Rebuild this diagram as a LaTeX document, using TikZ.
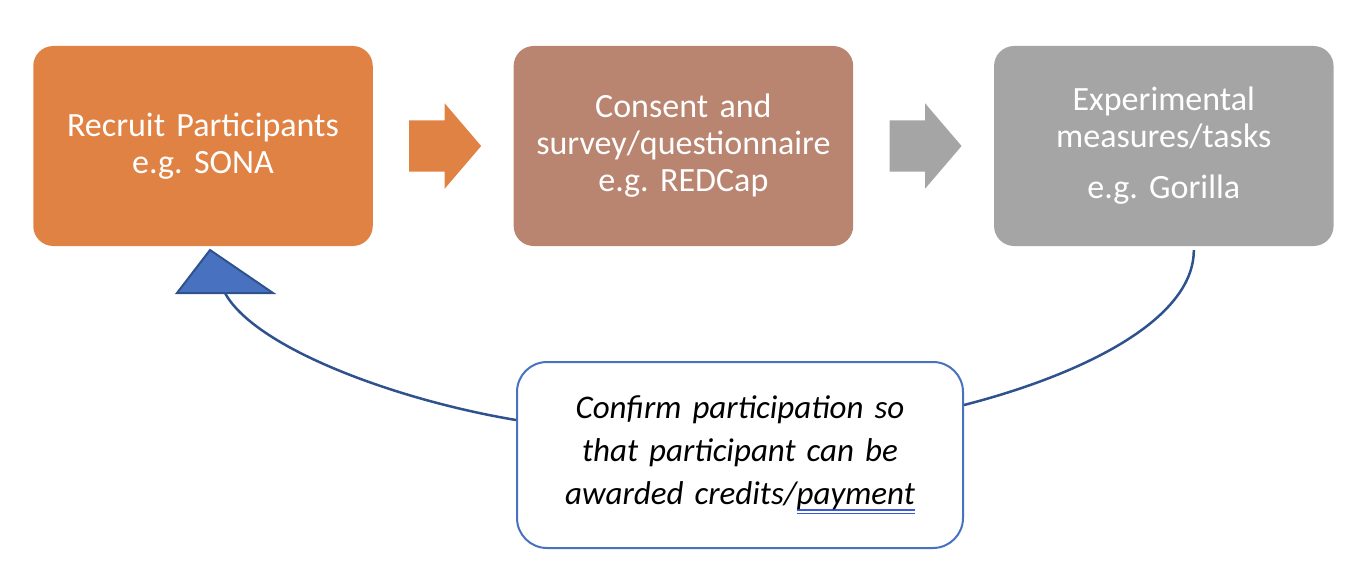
\documentclass[tikz,border=0pt]{standalone}
\usepackage{fontspec}
\setmainfont{Carlito}
\usepackage{xcolor}
\usetikzlibrary{shapes,arrows,positioning}
\definecolor{recruitorange}{RGB}{224,130,67}
\definecolor{consentbrown}{RGB}{185,132,112}
\definecolor{taskgray}{RGB}{165,165,165}
\definecolor{noteblue}{RGB}{72,114,192}
\definecolor{linkblue}{RGB}{47,82,143}
\definecolor{spellblue}{RGB}{60,90,215}
\frenchspacing
\newsavebox{\spellbox}
\newcommand{\spellmark}[1]{\sbox{\spellbox}{#1}%
  \rlap{\textcolor{spellblue}{\rule[-6pt]{\wd\spellbox}{1.2pt}}}%
  \rlap{\textcolor{spellblue}{\rule[-9.5pt]{\wd\spellbox}{1.2pt}}}%
  \usebox{\spellbox}}
\tikzstyle{block} = [rectangle, rounded corners=20pt, text=white, minimum width=339.5pt, minimum height=200pt, text width=330pt, align=center, font=\fontsize{34}{37}\selectfont]
\tikzstyle{blockarrow} = [single arrow, inner sep=0pt, text height=51pt, text depth=0pt, text width=0pt, minimum height=72pt, minimum width=85pt, single arrow head extend=17pt, single arrow tip angle=99]
\tikzstyle{note} = [rectangle, draw=noteblue, line width=2pt, fill=white, rounded corners=30pt, minimum width=446pt, minimum height=186pt, text width=430pt, align=center, font=\itshape\fontsize{33}{43}\selectfont]
\tikzstyle{backline} = [draw=linkblue, line width=2.5pt]
\tikzstyle{headstyle} = [fill=noteblue, draw=linkblue, line width=2pt, line join=miter]

\begin{document}
\begin{tikzpicture}[x=1pt, y=1pt, node distance=140.5pt]
\useasboundingbox (0,0) rectangle (1366,-586);
% top row
\node[block, fill=recruitorange] (recruit) at (203,-146) {Recruit Participants\\e.g. SONA};
\node[blockarrow, fill=recruitorange, right=36pt of recruit] (arrowA) {};
\node[block, fill=consentbrown, right=of recruit] (consent) {Consent and\\survey/questionnaire\\e.g. REDCap};
\node[blockarrow, fill=taskgray, right=36pt of consent] (arrowB) {};
\node[block, fill=taskgray, right=of consent] (tasks) {Experimental\\measures/tasks\\[14pt]e.g. Gorilla};
% feedback box
\node[note] (confirm) at (740,-455) {Confirm participation so\\that participant can be\\awarded credits/\spellmark{payment}};
\coordinate (headbase) at (225,-293);
\draw[backline] ([xshift=30pt,yshift=-4pt]tasks.south) .. controls +(0,-70) and +(117,30) .. ([yshift=50pt]confirm.east);
\draw[backline] ([yshift=35pt]confirm.west) .. controls +(-120,20) and +(30,-55) .. (headbase);
\draw[headstyle] ([xshift=-48pt]headbase) -- ([xshift=-15pt,yshift=43pt]headbase) -- ([xshift=48pt]headbase) -- cycle;
\end{tikzpicture}
\end{document}
